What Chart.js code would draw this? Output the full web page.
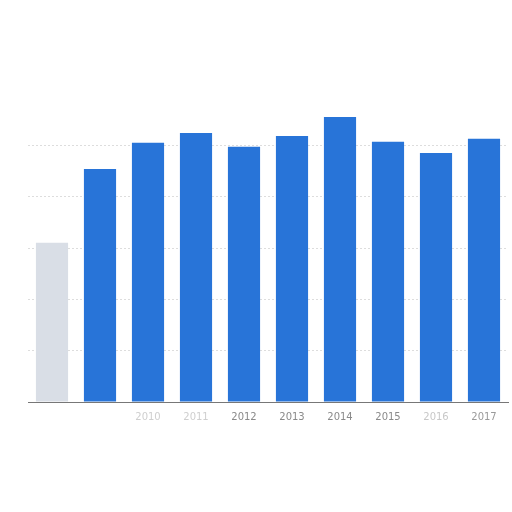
<!DOCTYPE html>
<html>
<head>
<meta charset="utf-8">
<script src="https://cdn.jsdelivr.net/npm/chart.js@4"></script>
<style>
  html, body { margin: 0; padding: 0; background: #ffffff; }
  #wrap { width: 512px; height: 512px; }
</style>
</head>
<body>
<div id="wrap"><canvas id="bar_graph" width="512" height="512"></canvas></div>
<script>
const years = ["2008", "2009", "2010", "2011", "2012", "2013", "2014", "2015", "2016", "2017"];
const values = [3.1, 4.54, 5.05, 5.24, 4.97, 5.18, 5.55, 5.07, 4.85, 5.13];
const barColours = ["#d9dee6", "#2874d8", "#2874d8", "#2874d8", "#2874d8", "#2874d8", "#2874d8", "#2874d8", "#2874d8", "#2874d8"];
const labelColours = ["rgba(0,0,0,0)", "rgba(0,0,0,0)", "#cfcfcf", "#cfcfcf", "#8a8a8a", "#8a8a8a", "#8a8a8a", "#8a8a8a", "#c8c8c8", "#9a9a9a"];

function render_graph() {
  const graph = document.getElementById('bar_graph');
  return new Chart(graph, {
    type: 'bar',
    data: {
      labels: years,
      datasets: [{
        data: values,
        backgroundColor: barColours,
        borderWidth: 0,
        categoryPercentage: 1.0,
        barPercentage: 0.67
      }]
    },
    options: {
      responsive: false,
      animation: false,
      layout: { padding: { top: 94, bottom: 80, left: 28, right: 4 } },
      plugins: { legend: { display: false }, tooltip: { enabled: false } },
      scales: {
        x: {
          grid: { display: false, drawTicks: false },
          border: { display: true, color: '#777777', width: 1 },
          ticks: {
            padding: 9,
            font: { family: 'DejaVu Sans', size: 10 },
            color: (ctx) => labelColours[ctx.index]
          }
        },
        y: {
          min: 0,
          max: 6,
          ticks: { display: false, stepSize: 1 },
          border: { display: false, dash: [2, 2] },
          grid: {
            drawTicks: false,
            color: (ctx) => (ctx.tick.value > 0 && ctx.tick.value < 6) ? '#dddddd' : 'rgba(0,0,0,0)'
          }
        }
      }
    }
  });
}

render_graph();
</script>
</body>
</html>
